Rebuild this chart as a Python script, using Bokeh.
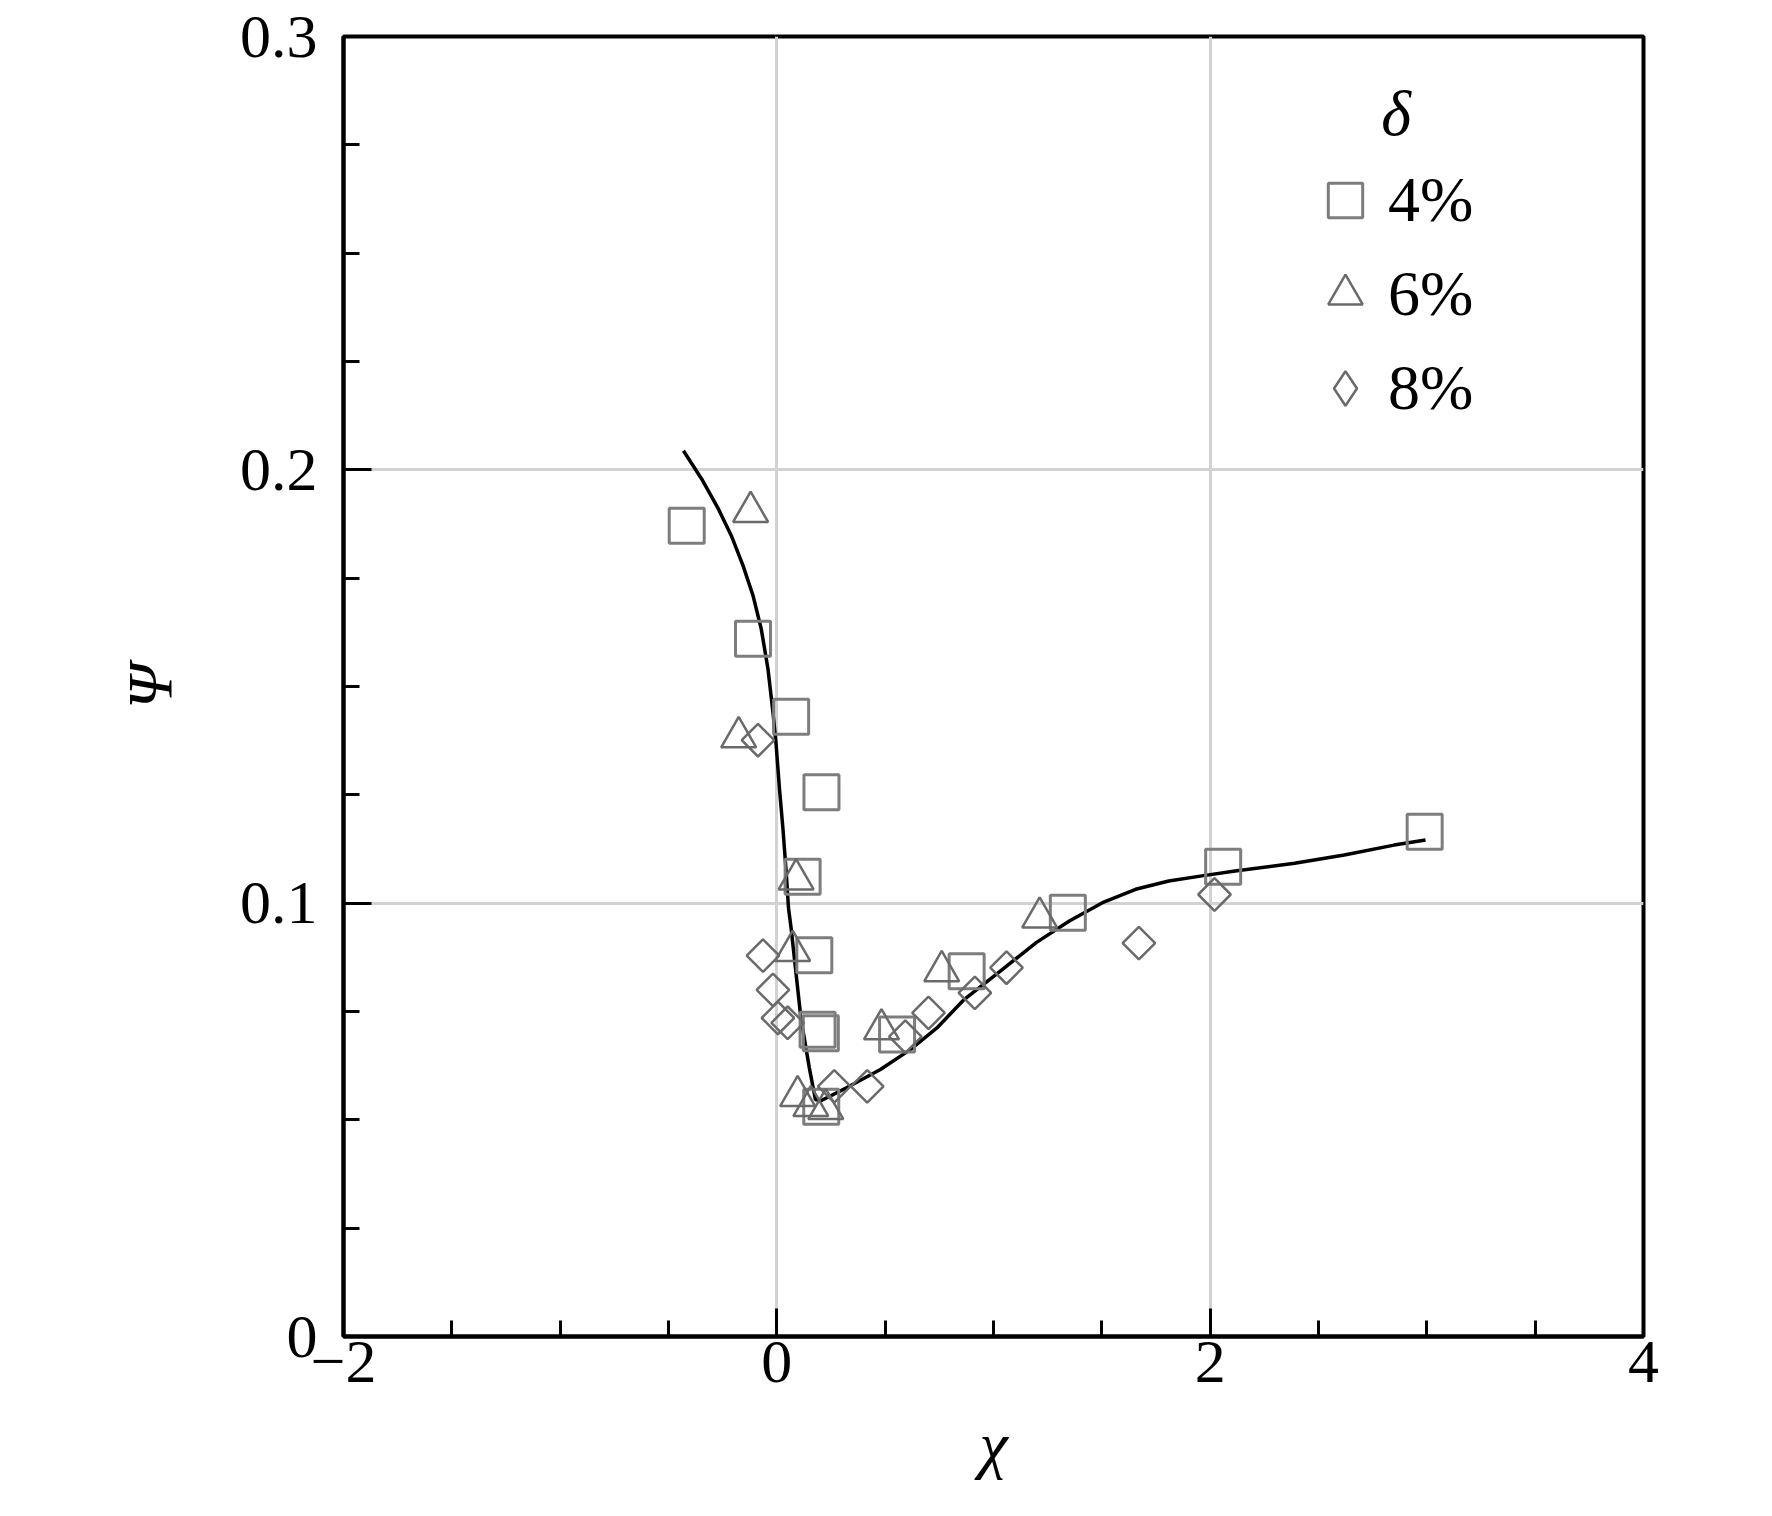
import numpy as np
from bokeh.plotting import figure
from bokeh.models import FixedTicker, Legend, LegendItem, Label
from bokeh.embed import file_html
from bokeh.resources import INLINE

# ---- data ----
sq_x = [-0.416, -0.110, 0.066, 0.206, 0.119, 0.173, 0.188, 0.203, 0.205, 0.555, 0.876, 1.343, 2.06, 2.99]
sq_y = [0.1871, 0.1610, 0.1430, 0.1256, 0.1061, 0.0880, 0.0708, 0.0700, 0.0530, 0.0697, 0.0843, 0.0978, 0.1084, 0.1165]

tri_x = [-0.121, -0.176, 0.089, 0.073, 0.096, 0.157, 0.226, 0.483, 0.761, 1.213]
tri_y = [0.1903, 0.1383, 0.1055, 0.0890, 0.0555, 0.0532, 0.0525, 0.0709, 0.0843, 0.0967]

dia_x = [-0.087, -0.064, -0.018, 0.005, 0.05, 0.265, 0.417, 0.593, 0.70, 0.914, 1.06, 1.671, 2.02]
dia_y = [0.1376, 0.0879, 0.0800, 0.0735, 0.0724, 0.0577, 0.0577, 0.0692, 0.0747, 0.0793, 0.0851, 0.0908, 0.1020]

fit_x = [-0.431, -0.347, -0.271, -0.210, -0.156, -0.110, -0.072, -0.041, -0.018, -0.003,
         0.012, 0.028, 0.043, 0.054, 0.066, 0.111, 0.150, 0.178, 0.203, 0.326, 0.478,
         0.616, 0.739, 0.861, 1.014, 1.197, 1.35, 1.503, 1.656, 1.809, 1.962, 2.115,
         2.39, 2.619, 2.849, 2.994]
fit_y = [0.2044, 0.1979, 0.1911, 0.1848, 0.1779, 0.1710, 0.1633, 0.1541, 0.1441, 0.1364,
         0.1265, 0.1173, 0.1073, 0.0988, 0.0942, 0.0735, 0.0620, 0.0547, 0.0544, 0.0575, 0.0616,
         0.0662, 0.0712, 0.0776, 0.0836, 0.0909, 0.0959, 0.1001, 0.1032, 0.1051, 0.1063, 0.1074,
         0.1092, 0.1111, 0.1134, 0.1146]

series_labels = ["4%", "6%", "8%"]
legend_title = "δ"
x_label = "χ"
y_label = "Ψ"
x_major = [-2, 0, 2, 4]
x_minor = [-1.5, -1, -0.5, 0.5, 1, 1.5, 2.5, 3, 3.5]
y_major = [0, 0.1, 0.2, 0.3]
y_minor = [0.025, 0.05, 0.075, 0.125, 0.15, 0.175, 0.225, 0.25, 0.275]
x_tick_labels = {-2: "\u22122", 0: "0", 2: "2", 4: "4"}
y_tick_labels = {0: "0", 0.1: "0.1", 0.2: "0.2", 0.3: "0.3"}

FONT = "Liberation Serif"

p = figure(frame_width=1300, frame_height=1300,
           min_border_left=343, min_border_top=36, min_border_right=113, min_border_bottom=176,
           x_range=(-2, 4), y_range=(0, 0.3),
           output_backend="svg", toolbar_location=None,
           background_fill_color="white", border_fill_color="white")

p.outline_line_color = "black"
p.outline_line_width = 4
p.outline_line_alpha = 1

# grids
p.xgrid.ticker = FixedTicker(ticks=x_major)
p.ygrid.ticker = FixedTicker(ticks=y_major)
for g in (p.xgrid, p.ygrid):
    g.grid_line_color = "#d2d2d2"
    g.grid_line_width = 3

# axes
p.xaxis.ticker = FixedTicker(ticks=x_major, minor_ticks=x_minor)
p.yaxis.ticker = FixedTicker(ticks=y_major, minor_ticks=y_minor)
p.xaxis.major_label_overrides = x_tick_labels
p.yaxis.major_label_overrides = y_tick_labels
for ax in (p.xaxis, p.yaxis):
    ax.axis_line_width = 4
    ax.axis_line_color = "black"
    ax.major_tick_in = 28
    ax.major_tick_out = 0
    ax.minor_tick_in = 16
    ax.minor_tick_out = 0
    ax.major_tick_line_width = 3
    ax.minor_tick_line_width = 3
    ax.major_tick_line_color = "black"
    ax.minor_tick_line_color = "black"
    ax.major_label_text_font = FONT
    ax.major_label_text_font_size = "62px"
    ax.major_label_text_color = "black"
    ax.axis_label_text_font = FONT
    ax.axis_label_text_font_size = "64px"
    ax.axis_label_text_font_style = "italic"
    ax.axis_label_text_color = "black"

p.xaxis.axis_label = x_label
p.yaxis.axis_label = y_label
p.xaxis.major_label_standoff = 5
p.yaxis.major_label_standoff = 26
p.xaxis.axis_label_standoff = 24
p.yaxis.axis_label_standoff = 51

# fitted curve
p.line(fit_x, fit_y, line_color="black", line_width=3.5)

# data markers
r_sq = p.scatter(sq_x, sq_y, marker="square", size=35, fill_color=None,
                 line_color="#7d7d7d", line_width=3)
r_tri = p.scatter(tri_x, tri_y, marker="triangle", size=35, fill_color=None,
                  line_color="#6a6a6a", line_width=2.5)
r_dia = p.scatter(dia_x, dia_y, marker="square", angle=np.pi / 4, size=23, fill_color=None,
                  line_color="#6a6a6a", line_width=2.5)
# legend key for the diamonds: same data, zero size in the plot (legend uses its own size)
r_dia_key = p.scatter(dia_x, dia_y, marker="diamond", size=0, fill_color=None,
                      line_color="#6a6a6a", line_width=2.5)

legend = Legend(items=[LegendItem(label=series_labels[0], renderers=[r_sq]),
                       LegendItem(label=series_labels[1], renderers=[r_tri]),
                       LegendItem(label=series_labels[2], renderers=[r_dia_key])],
                location=(959, 905))
legend.glyph_width = 86
legend.glyph_height = 86
legend.spacing = 8
legend.padding = 0
legend.margin = 0
legend.label_standoff = 0
legend.label_text_font = FONT
legend.label_text_font_size = "64px"
legend.label_text_color = "black"
legend.label_text_baseline = "middle"
legend.border_line_alpha = 0
legend.background_fill_alpha = 0
p.add_layout(legend)

p.add_layout(Label(x=2.858, y=0.2823, text=legend_title, text_font=FONT,
                   text_font_size="64px", text_font_style="italic",
                   text_align="center", text_baseline="middle", text_color="black"))

open("out.html", "w").write(file_html(p, INLINE))
